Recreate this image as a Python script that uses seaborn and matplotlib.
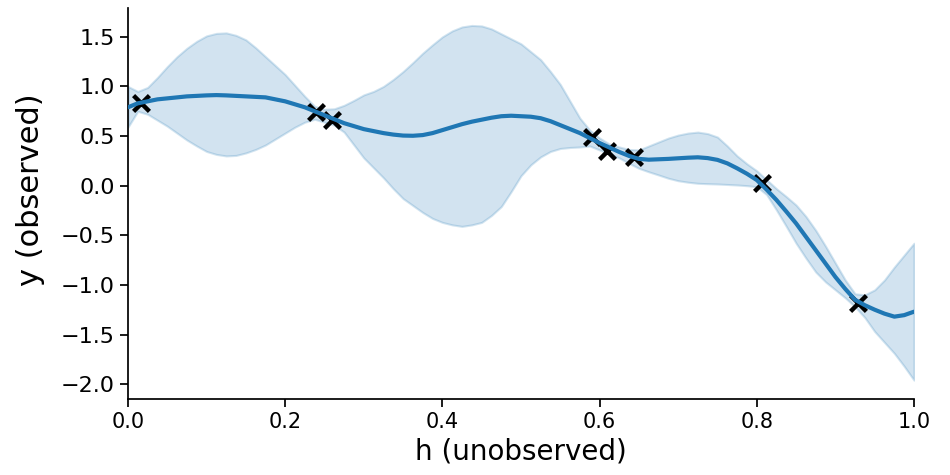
import numpy as np
import pandas as pd
import matplotlib
matplotlib.use("Agg")
import matplotlib.pyplot as plt
import seaborn as sns

# ---- data ----
h_grid = [0.0, 0.0125, 0.025, 0.0375, 0.05, 0.0625, 0.075, 0.0875, 0.1, 0.1125,
          0.125, 0.1375, 0.15, 0.1625, 0.175, 0.1875, 0.2, 0.2125, 0.225, 0.2375,
          0.25, 0.2625, 0.275, 0.2875, 0.3, 0.3125, 0.325, 0.3375, 0.35, 0.3625,
          0.375, 0.3875, 0.4, 0.4125, 0.425, 0.4375, 0.45, 0.4625, 0.475, 0.4875,
          0.5, 0.5125, 0.525, 0.5375, 0.55, 0.5625, 0.575, 0.5875, 0.6, 0.6125,
          0.625, 0.6375, 0.65, 0.6625, 0.675, 0.6875, 0.7, 0.7125, 0.725, 0.7375,
          0.75, 0.7625, 0.775, 0.7875, 0.8, 0.8125, 0.825, 0.8375, 0.85, 0.8625,
          0.875, 0.8875, 0.9, 0.9125, 0.925, 0.9375, 0.95, 0.9625, 0.975, 0.9875,
          1.0]
mean_y = [0.79, 0.83, 0.85, 0.87, 0.88, 0.89, 0.90, 0.905, 0.91, 0.913,
          0.91, 0.905, 0.90, 0.895, 0.89, 0.87, 0.85, 0.82, 0.79, 0.75,
          0.71, 0.67, 0.63, 0.60, 0.57, 0.55, 0.53, 0.515, 0.505, 0.503,
          0.51, 0.53, 0.56, 0.59, 0.62, 0.645, 0.665, 0.685, 0.70, 0.705,
          0.70, 0.695, 0.68, 0.65, 0.61, 0.57, 0.53, 0.48, 0.43, 0.385,
          0.34, 0.30, 0.27, 0.262, 0.266, 0.27, 0.276, 0.282, 0.286, 0.278,
          0.26, 0.225, 0.175, 0.12, 0.057, -0.04, -0.144, -0.26, -0.38, -0.515,
          -0.65, -0.785, -0.92, -1.04, -1.15, -1.205, -1.25, -1.29, -1.32, -1.305,
          -1.27]
upper_y = [1.00, 0.95, 0.99, 1.09, 1.20, 1.30, 1.385, 1.455, 1.51, 1.535,
           1.54, 1.515, 1.47, 1.39, 1.30, 1.21, 1.12, 1.01, 0.90, 0.80,
           0.77, 0.775, 0.81, 0.86, 0.915, 0.95, 1.00, 1.07, 1.15, 1.24,
           1.335, 1.42, 1.50, 1.56, 1.60, 1.615, 1.61, 1.58, 1.53, 1.48,
           1.43, 1.35, 1.27, 1.15, 1.02, 0.85, 0.68, 0.56, 0.48, 0.42,
           0.39, 0.365, 0.36, 0.40, 0.44, 0.48, 0.51, 0.53, 0.54, 0.525,
           0.49, 0.40, 0.30, 0.22, 0.15, 0.06, -0.03, -0.11, -0.195, -0.31,
           -0.45, -0.61, -0.78, -0.95, -1.09, -1.10, -1.05, -0.95, -0.82, -0.70,
           -0.58]
lower_y = [0.59, 0.75, 0.72, 0.66, 0.60, 0.53, 0.46, 0.40, 0.345, 0.315,
           0.30, 0.305, 0.33, 0.365, 0.41, 0.47, 0.53, 0.59, 0.64, 0.67,
           0.64, 0.61, 0.54, 0.41, 0.28, 0.18, 0.08, -0.03, -0.13, -0.20,
           -0.27, -0.33, -0.37, -0.395, -0.41, -0.395, -0.37, -0.30, -0.21, -0.06,
           0.10, 0.21, 0.29, 0.345, 0.375, 0.385, 0.39, 0.40, 0.36, 0.32,
           0.28, 0.225, 0.175, 0.14, 0.108, 0.075, 0.05, 0.035, 0.024, 0.02,
           0.017, 0.012, 0.007, 0.0, -0.01, -0.09, -0.245, -0.41, -0.58, -0.73,
           -0.87, -0.97, -1.05, -1.13, -1.22, -1.33, -1.47, -1.58, -1.69, -1.82,
           -1.96]

obs_h = [0.0165, 0.239, 0.260, 0.590, 0.609, 0.644, 0.807, 0.929]
obs_y = [0.834, 0.743, 0.663, 0.492, 0.350, 0.290, 0.027, -1.182]

sns.set_style("ticks")
plt.rcParams["font.family"] = ["DejaVu Sans"]
for k in ("text.color", "axes.labelcolor", "xtick.color", "ytick.color", "axes.edgecolor"):
    plt.rcParams[k] = "black"

fig = plt.figure(figsize=(9.5, 4.75), dpi=100)
ax = fig.add_axes([0.1347, 0.16, 0.8274, 0.823])

blue = "#1f77b4"
curve = pd.DataFrame({"h": h_grid, "mean": mean_y, "upper": upper_y, "lower": lower_y})
obs = pd.DataFrame({"h": obs_h, "y": obs_y})

ax.fill_between(curve["h"], curve["lower"], curve["upper"], color=blue, alpha=0.2,
                linewidth=1.5, zorder=1)
sns.scatterplot(data=obs, x="h", y="y", marker="x", color="black", s=130,
                linewidth=3.2, ax=ax, zorder=2)
sns.lineplot(data=curve, x="h", y="mean", color=blue, linewidth=3, ax=ax, zorder=3)

ax.set_xlim(0, 1)
ax.set_ylim(-2.15, 1.79)
ax.set_xticks([0.0, 0.2, 0.4, 0.6, 0.8, 1.0])
ax.set_yticks([-2.0, -1.5, -1.0, -0.5, 0.0, 0.5, 1.0, 1.5])
ax.set_xlabel("h (unobserved)", fontsize=20)
ax.set_ylabel("y (observed)", fontsize=22)
ax.yaxis.set_label_coords(-0.106, 0.535)
ax.tick_params(axis="x", labelsize=15, length=6, width=1.25)
ax.tick_params(axis="y", labelsize=16, length=6, width=1.25)
for s in ("left", "bottom"):
    ax.spines[s].set_linewidth(1.25)
sns.despine(ax=ax)

fig.savefig("out.png", dpi=100)
